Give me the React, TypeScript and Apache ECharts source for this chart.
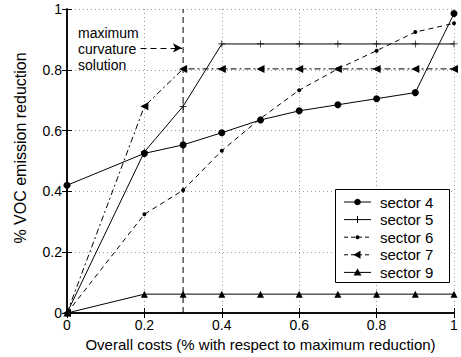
import React, { useEffect, useRef } from "react";
import * as echarts from "echarts";

const xs = [0, 0.2, 0.3, 0.4, 0.5, 0.6, 0.7, 0.8, 0.9, 1];
const sector4 = [0.42, 0.525, 0.553, 0.593, 0.635, 0.665, 0.685, 0.705, 0.725, 0.985];
const sector5 = [0, 0.53, 0.68, 0.885, 0.885, 0.885, 0.885, 0.885, 0.885, 0.885];
const sector6 = [0, 0.325, 0.404, 0.534, 0.64, 0.733, 0.803, 0.863, 0.924, 0.953];
const sector7 = [0, 0.68, 0.803, 0.803, 0.803, 0.803, 0.803, 0.803, 0.803, 0.803];
const sector9 = [0, 0.062, 0.062, 0.062, 0.062, 0.062, 0.062, 0.062, 0.062, 0.062];
const seriesNames = ["sector 4", "sector 5", "sector 6", "sector 7", "sector 9"];
const optimumX = 0.3;
const arrowY = 0.872;
const arrowFromX = 0.19;
const noteLines = ["maximum", "curvature", "solution"];

const FONT = "'Liberation Sans', Arial, Helvetica, sans-serif";
const pair = (vals: number[]) => xs.map((x, i) => [x, vals[i]]);
const PLUS =
  "path://M-0.1,-1 L0.1,-1 L0.1,-0.1 L1,-0.1 L1,0.1 L0.1,0.1 L0.1,1 L-0.1,1 L-0.1,0.1 L-1,0.1 L-1,-0.1 L-0.1,-0.1 Z";
const LEFT_TRI = "path://M0,5 L9,0 L9,10 Z";

type Kind = "circle" | "plus" | "dot" | "ltri" | "utri";
const legendKinds: Kind[] = ["circle", "plus", "dot", "ltri", "utri"];
const legendDash: (number[] | null)[] = [null, null, [4, 3], [4, 3], null];

function legendGraphics() {
  const els: any[] = [
    {
      type: "rect",
      shape: { x: 335.5, y: 189.5, width: 114, height: 93 },
      style: { fill: "#fff", stroke: "#000", lineWidth: 1 },
      z: 10,
    },
  ];
  seriesNames.forEach((name, i) => {
    const cy = 202 + i * 17.6;
    const x1 = 344;
    const x2 = 371;
    const cx = (x1 + x2) / 2;
    const dash = legendDash[i];
    els.push({
      type: "line",
      shape: { x1, y1: cy, x2, y2: cy },
      style: { stroke: "#000", lineWidth: 1, lineDash: dash || undefined },
      z: 11,
    });
    const k = legendKinds[i];
    if (k === "circle") {
      els.push({ type: "circle", shape: { cx, cy, r: 3.3 }, style: { fill: "#000" }, z: 12 });
    } else if (k === "dot") {
      els.push({ type: "circle", shape: { cx, cy, r: 2 }, style: { fill: "#000" }, z: 12 });
    } else if (k === "plus") {
      els.push({
        type: "line",
        shape: { x1: cx, y1: cy - 3.5, x2: cx, y2: cy + 3.5 },
        style: { stroke: "#000", lineWidth: 1 },
        z: 12,
      });
    } else if (k === "ltri") {
      els.push({
        type: "polygon",
        shape: { points: [[cx - 4, cy], [cx + 3, cy - 4], [cx + 3, cy + 4]] },
        style: { fill: "#000" },
        z: 12,
      });
    } else {
      els.push({
        type: "polygon",
        shape: { points: [[cx, cy - 4], [cx - 4, cy + 3], [cx + 4, cy + 3]] },
        style: { fill: "#000" },
        z: 12,
      });
    }
    els.push({
      type: "text",
      x: 380,
      y: cy,
      style: {
        text: name,
        fontSize: 15,
        fontFamily: FONT,
        fill: "#000",
        align: "left",
        verticalAlign: "middle",
      },
      z: 12,
    });
  });
  return els;
}

export default function App() {
  const ref = useRef<HTMLDivElement>(null);
  useEffect(() => {
    document.body.style.margin = "0";
    const chart = echarts.init(ref.current!, null, { renderer: "svg" });
    const axisCommon = {
      type: "value" as const,
      min: 0,
      max: 1,
      interval: 0.2,
      axisLine: { show: true, lineStyle: { color: "#000", width: 1.5 } },
      axisTick: { show: true, inside: true, length: 5, lineStyle: { color: "#000" } },
    };
    const line = (name: string, data: number[], symbol: string, size: number, type: any) => ({
      name,
      type: "line",
      data: pair(data),
      symbol,
      symbolSize: size,
      showSymbol: true,
      lineStyle: { color: "#000", width: 1, type },
      itemStyle: { color: "#000" },
      z: 3,
    });
    chart.setOption({
      animation: false,
      backgroundColor: "#fff",
      textStyle: { fontFamily: FONT },
      grid: { left: 67, right: 7, top: 9, bottom: 44 },
      xAxis: [
        {
          ...axisCommon,
          name: "Overall costs (% with respect to maximum reduction)",
          nameLocation: "middle",
          nameGap: 22,
          nameTextStyle: { fontSize: 15, color: "#000", fontFamily: FONT },
          axisLabel: { fontSize: 14, color: "#000", margin: 5, fontFamily: FONT },
          splitLine: { show: true, lineStyle: { color: "#999", type: [1, 3], width: 1 } },
        },
        {
          ...axisCommon,
          position: "top",
          axisLabel: { show: false },
          splitLine: { show: false },
        },
      ],
      yAxis: [
        {
          ...axisCommon,
          axisLabel: { fontSize: 14, color: "#000", margin: 5, fontFamily: FONT },
          splitLine: { show: true, lineStyle: { color: "#999", type: [1, 3], width: 1 } },
        },
        {
          ...axisCommon,
          position: "right",
          axisLabel: { show: false },
          splitLine: { show: false },
        },
      ],
      series: [
        {
          name: "optimum",
          type: "line",
          data: [
            [optimumX, 0],
            [optimumX, 1],
          ],
          symbol: "none",
          lineStyle: { color: "#000", width: 1, type: [6, 4] },
          z: 2,
          markLine: {
            silent: true,
            symbol: ["none", "arrow"],
            symbolSize: [7, 9],
            label: { show: false },
            lineStyle: { color: "#000", width: 1, type: [6, 4] },
            data: [[{ coord: [arrowFromX, arrowY] }, { coord: [optimumX - 0.003, arrowY] }]],
          },
        },
        line(seriesNames[0], sector4, "circle", 7, "solid"),
        line(seriesNames[1], sector5, PLUS, 7, "solid"),
        line(seriesNames[2], sector6, "circle", 4, [5, 4]),
        line(seriesNames[3], sector7, LEFT_TRI, 8, [6, 3, 2, 3]),
        line(seriesNames[4], sector9, "triangle", 7, "solid"),
      ],
      graphic: [
        {
          type: "text",
          rotation: Math.PI / 2,
          x: 20,
          y: 148,
          style: {
            text: "% VOC emission reduction",
            fontSize: 16,
            fontFamily: FONT,
            fill: "#000",
            align: "center",
            verticalAlign: "middle",
          },
        },
        ...noteLines.map((t, i) => ({
          type: "text",
          x: 78,
          y: 33 + i * 16,
          style: {
            text: t,
            fontSize: 14,
            fontFamily: FONT,
            fill: "#000",
            align: "left",
            verticalAlign: "middle",
          },
          z: 5,
        })),
        ...legendGraphics(),
      ],
    });
    return () => chart.dispose();
  }, []);
  return <div ref={ref} style={{ width: 461, height: 357 }} />;
}
